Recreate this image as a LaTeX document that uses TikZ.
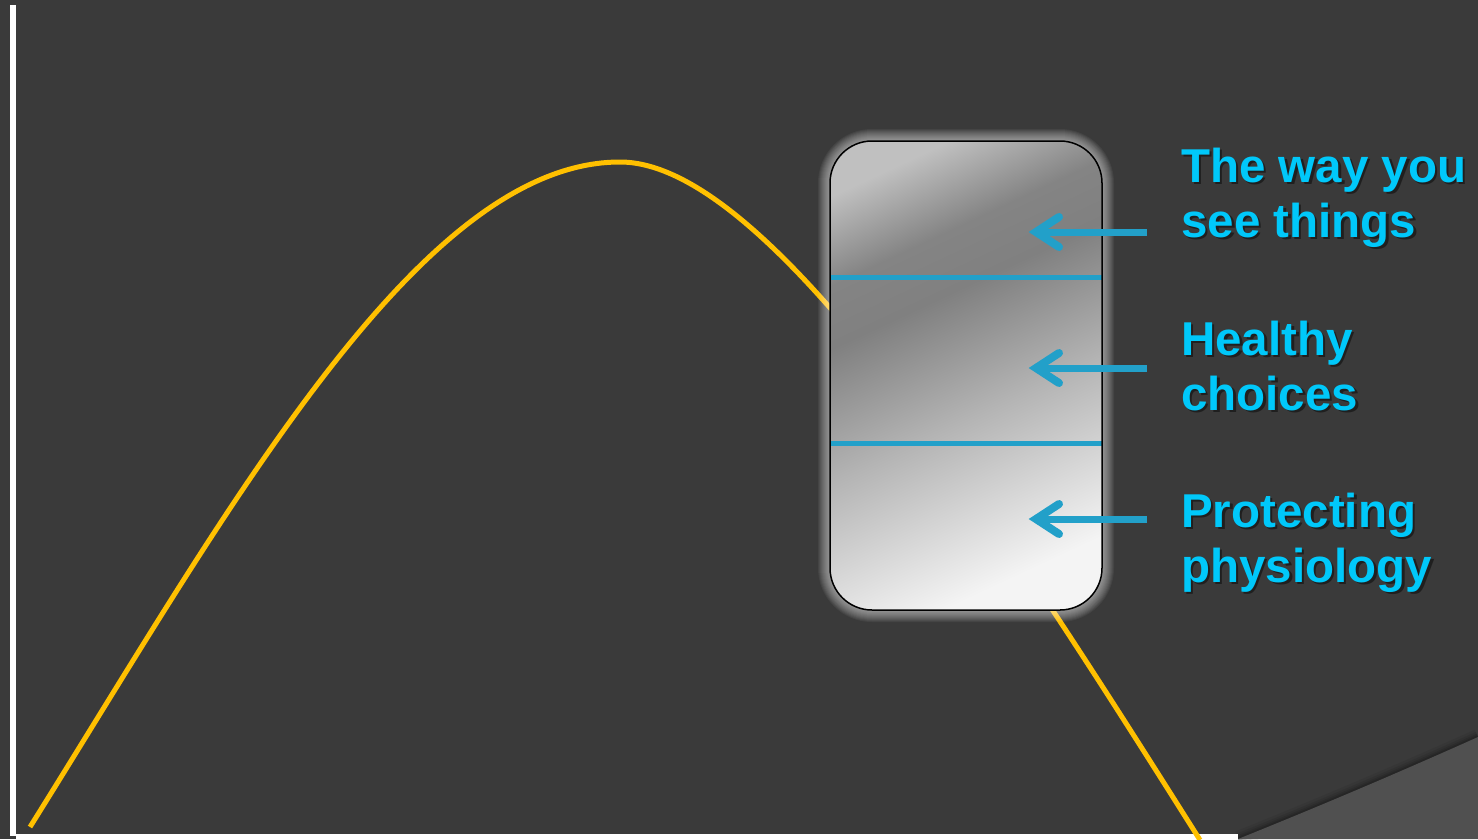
\documentclass[tikz,border=0pt]{standalone}
\usepackage{fontspec}
\setmainfont{Liberation Sans}
\definecolor{bg}{HTML}{3A3A3A}
\definecolor{wedgecol}{HTML}{505050}
\definecolor{curvecol}{HTML}{FFC000}
\definecolor{bluecol}{HTML}{22A0C9}
\definecolor{lblcol}{HTML}{00C8FA}
\definecolor{bxA}{HTML}{F4F4F4}
\definecolor{bxB}{HTML}{B4B4B4}
\definecolor{bxC}{HTML}{808080}
\definecolor{bxC2}{HTML}{848484}
\definecolor{bxD}{HTML}{C0C0C0}
\pgfdeclareverticalshading{boxshade}{100bp}{color(0bp)=(bxA); color(25bp)=(bxA); color(45bp)=(bxB); color(60bp)=(bxC); color(67bp)=(bxC2); color(77bp)=(bxD); color(100bp)=(bxD)}
\tikzset{
  curveline/.style={draw=curvecol, line width=5pt},
  divider/.style={draw=bluecol, line width=5pt},
  shaft/.style={draw=bluecol, line width=7pt, line cap=butt},
  chev/.style={draw=bluecol, line width=8pt, line cap=round, line join=miter},
  lbl/.style={font=\fontsize{47.5}{55}\selectfont\bfseries, text=lblcol, anchor=base west, inner sep=0pt},
  lblshadow/.style={font=\fontsize{47.5}{55}\selectfont\bfseries, text=black, text opacity=0.45, anchor=base west, inner sep=0pt},
  axisline/.style={fill=white},
}
\begin{document}
\begin{tikzpicture}[x=1pt,y=-1pt]
\useasboundingbox (0,0) rectangle (1478,839);
\fill[bg] (0,0) rectangle (1478,839);
% bottom-right wedge with soft shadow
\foreach \w/\o in {16/0.06,11/0.08,7/0.1,4/0.12}
  \draw[black, opacity=\o, line width=\w pt] (1238,839) .. controls (1320,806) and (1400,772) .. (1478,737);
\fill[wedgecol] (1238,839) .. controls (1320,806) and (1400,772) .. (1478,737) -- (1478,839) -- cycle;
% axes
\fill[axisline] (10,5) rectangle (16,836);
\fill[axisline] (16,834) rectangle (1238,839);
% curve
\coordinate (c0) at (30,827);
\coordinate (cpk) at (620,162);
\coordinate (c1) at (1200,840);
\draw[curveline] (c0) .. controls (230,507) and (420,162) .. (cpk)
                      .. controls (770,162) and (1000,523) .. (c1);
% glow around box
\foreach \e in {12,11,...,1}
  \fill[white, opacity=0.05, rounded corners=42pt+\e pt] (830-\e,141-\e) rectangle (1102+\e,610+\e);
% box
\node[minimum width=272pt, minimum height=469pt, inner sep=0pt, outer sep=0pt,
      rounded corners=42pt, shading=boxshade, shading angle=25] (box) at (966,375.5) {};
\draw[divider] (box.west |- 0,277) -- (box.east |- 0,277);
\draw[divider] (box.west |- 0,443) -- (box.east |- 0,443);
\draw[black, line width=1.5pt, rounded corners=42pt] (box.north west) rectangle (box.south east);
% arrows
\foreach \y/\n in {232/1,368/2,519/3}{
  \coordinate (tail\n) at (1147,\y);
  \coordinate (tip\n) at (1036,\y);
  \draw[shaft] (tail\n) -- (tip\n);
  \draw[chev] (1059,\y-15) -- (tip\n) -- (1059,\y+15);
}
% labels
\foreach \yy/\txt/\nm in {182/The way you/l1a, 237/see things/l1b, 355/Healthy/l2a, 410/choices/l2b, 527/Protecting/l3a, 582/physiology/l3b}{
  \node[lblshadow] at (1183.5,\yy+2.5) {\txt};
  \node[lbl] (\nm) at (1181,\yy) {\txt};
}
\end{tikzpicture}
\end{document}
